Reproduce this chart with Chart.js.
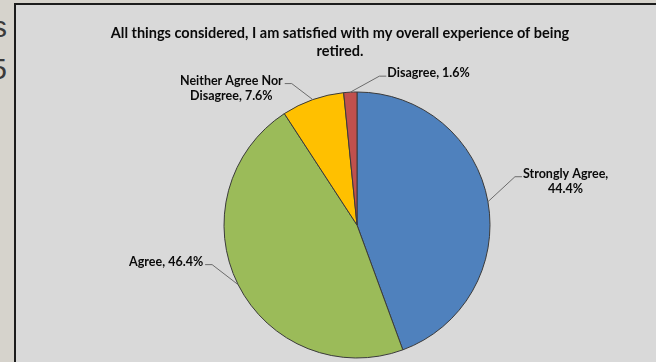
<!DOCTYPE html>
<html>
<head>
<meta charset="utf-8">
<script src="https://cdn.jsdelivr.net/npm/chart.js@4/dist/chart.umd.min.js"></script>
<style>
  html, body { margin: 0; padding: 0; width: 656px; height: 362px; overflow: hidden; background: #d6d3cc; }
  .slide-edge { position: absolute; left: 0; top: 0; width: 8px; overflow: hidden; font-family: "Liberation Sans", sans-serif; font-size: 30px; color: #3a3a3a; }
  .slide-edge div { position: absolute; right: 1px; white-space: nowrap; }
  #frame { position: absolute; left: 14px; top: 3px; width: 650px; height: 370px; border: 2px solid #1c1c1c; background: #d9d9d9; }
  #chart { display: block; }
</style>
</head>
<body>
<div class="slide-edge" style="height:120px">
  <div style="top:10px">s</div>
  <div style="top:52px">5</div>
</div>
<div id="frame"><canvas id="chart" width="650" height="357"></canvas></div>
<script>
// survey answers, clockwise from 12 o'clock
const categories = ['Strongly Agree', 'Agree', 'Neither Agree Nor Disagree', 'Disagree'];
const shares = [44.4, 46.4, 7.6, 1.6];
const sliceColors = ['#4f81bd', '#9bbb59', '#ffc000', '#c0504d'];
const titleLines = ['All things considered, I am satisfied with my overall experience of being', 'retired.'];

// where each data label sits, relative to the slice's outer mid point
// breakAfter = number of words on the first line (null -> one line)
const labelLayout = [
  { dx: 34, dy: -25, breakAfter: 2 },
  { dx: -33, dy: -20, breakAfter: null },
  { dx: -28, dy: -16, breakAfter: 3 },
  { dx: 36, dy: -16, breakAfter: null }
];

const FONT = 'Lato, "Liberation Sans", sans-serif';

const titlePlugin = {
  id: 'chartTitle',
  afterDraw(chart) {
    const ctx = chart.ctx;
    ctx.save();
    ctx.fillStyle = '#0a0a0a';
    ctx.font = 'bold 14.5px ' + FONT;
    ctx.textAlign = 'center';
    ctx.textBaseline = 'middle';
    titleLines.forEach((line, i) => ctx.fillText(line, 324, 28 + i * 18));
    ctx.restore();
  }
};

// Excel-style labels with leader lines
const leaderLabels = {
  id: 'leaderLabels',
  afterDraw(chart) {
    const ctx = chart.ctx;
    const arcs = chart.getDatasetMeta(0).data;
    ctx.save();
    ctx.font = 'bold 12.5px ' + FONT;
    ctx.textBaseline = 'middle';
    arcs.forEach((arc, i) => {
      const p = arc.getProps(['x', 'y', 'startAngle', 'endAngle', 'outerRadius'], true);
      const mid = (p.startAngle + p.endAngle) / 2;
      const ex = p.x + Math.cos(mid) * p.outerRadius;
      const ey = p.y + Math.sin(mid) * p.outerRadius;
      const lay = labelLayout[i];
      const endX = ex + lay.dx;
      const endY = ey + lay.dy;
      const right = lay.dx > 0;
      const elbowX = endX + (right ? -7 : 7);

      ctx.strokeStyle = '#6b6b6b';
      ctx.lineWidth = 1;
      ctx.beginPath();
      ctx.moveTo(ex, ey);
      ctx.lineTo(elbowX, endY);
      ctx.lineTo(endX, endY);
      ctx.stroke();

      const words = (categories[i] + ', ' + shares[i].toFixed(1) + '%').split(' ');
      const lines = lay.breakAfter ? [words.slice(0, lay.breakAfter).join(' '), words.slice(lay.breakAfter).join(' ')] : [words.join(' ')];
      const blockW = Math.max(...lines.map(l => ctx.measureText(l).width));
      const left = right ? endX + 1 : endX - 2 - blockW;
      ctx.fillStyle = '#0a0a0a';
      ctx.textAlign = 'center';
      lines.forEach((l, k) => ctx.fillText(l, left + blockW / 2, endY - 3 + k * 15.5));
    });
    ctx.restore();
  }
};

new Chart(document.getElementById('chart'), {
  type: 'pie',
  data: {
    labels: categories,
    datasets: [{
      data: shares,
      backgroundColor: sliceColors,
      borderColor: '#3a3a3a',
      borderWidth: 1
    }]
  },
  options: {
    responsive: false,
    animation: false,
    layout: { padding: { top: 86.5, bottom: 3.5, left: 32, right: 0 } },
    plugins: {
      legend: { display: false },
      tooltip: { enabled: false },
      title: { display: false }
    }
  },
  plugins: [titlePlugin, leaderLabels]
});
</script>
</body>
</html>
